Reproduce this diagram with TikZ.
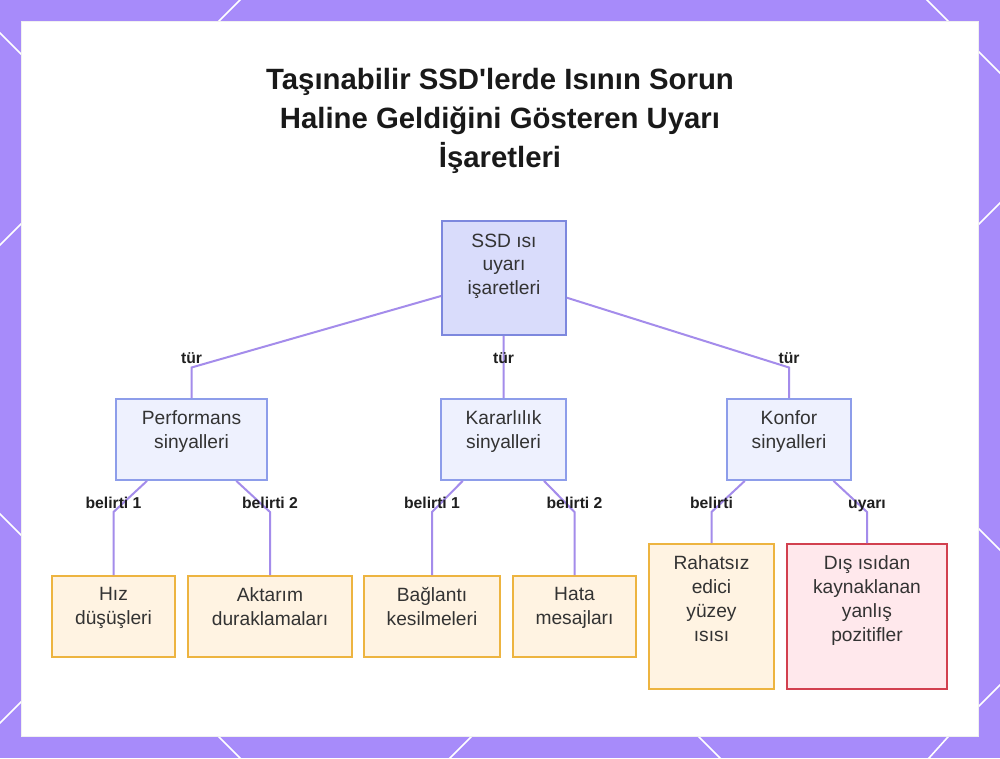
\documentclass[tikz,border=0pt]{standalone}
\usepackage{fontspec}
\setmainfont{Liberation Sans}
\usetikzlibrary{positioning,calc}

\definecolor{framepurple}{HTML}{A78BFA}
\definecolor{linkpurple}{HTML}{A48CEB}
\definecolor{rootfill}{HTML}{D9DCFB}
\definecolor{rootline}{HTML}{7D88DE}
\definecolor{catfill}{HTML}{EEF1FE}
\definecolor{catline}{HTML}{8D9DEA}
\definecolor{warnfill}{HTML}{FFF3E2}
\definecolor{warnline}{HTML}{EDB440}
\definecolor{alertfill}{HTML}{FFE8EC}
\definecolor{alertline}{HTML}{D2404F}
\definecolor{textgray}{HTML}{333333}

\newcommand{\pxu}{0.75pt}

\begin{document}
\begin{tikzpicture}[x=0.75pt, y=-0.75pt,
    box/.style={rectangle, draw, line width=1.3pt, inner sep=0pt},
    rootbox/.style={box, draw=rootline, fill=rootfill},
    catbox/.style={box, draw=catline, fill=catfill},
    warnbox/.style={box, draw=warnline, fill=warnfill},
    alertbox/.style={box, draw=alertline, fill=alertfill},
    txt/.style={anchor=north, align=center, inner sep=0pt, text=textgray,
      font=\fontsize{14.4}{17.8}\selectfont},
    lbl/.style={anchor=base, yshift=3pt, inner sep=0pt, text=black!88,
      font=\bfseries\fontsize{11.8}{14}\selectfont},
    link/.style={draw=linkpurple, line width=1.5pt},
    deco/.style={draw=white, line width=1.2pt}]

    % frame and panel
    \useasboundingbox (0,0) rectangle (1000,758);
    \fill[framepurple] (0,0) rectangle (1000,758);
    \begin{scope}[deco]
      \draw (250,-10) -- (200,40);
      \draw (-10,23) -- (40,73);
      \draw (-10,255) -- (40,205);
      \draw (-10,504) -- (40,554);
      \draw (-10,733) -- (40,683);
      \draw (917,-10) -- (1010,83);
      \draw (1010,193) -- (960,243);
      \draw (960,510) -- (1010,560);
      \draw (1010,675) -- (960,725);
      \draw (200,718) -- (250,768);
      \draw (490,718) -- (440,768);
      \draw (680,718) -- (730,768);
      \draw (965,718) -- (920,768);
    \end{scope}
    \fill[black!6] (21,21) rectangle (979,737);
    \fill[white] (22,22) rectangle (978,736);

    % title
    \node[align=center, text=black!90, font=\bfseries\fontsize{22}{29}\selectfont]
      (title) at (500,121) {Taşınabilir SSD\textquotesingle lerde Isının Sorun\\Haline Geldiğini Gösteren Uyarı\\İşaretleri};

    % boxes
    \node[rootbox, minimum width=124*\pxu, minimum height=114*\pxu] (root) at (504,278) {};
    \node[catbox, minimum width=151*\pxu, minimum height=81*\pxu] (perf) at (191.5,439.5) {};
    \node[catbox, minimum width=125*\pxu, minimum height=81*\pxu] (karar) at (503.5,439.5) {};
    \node[catbox, minimum width=124*\pxu, minimum height=81*\pxu] (konfor) at (789,439.5) {};
    \node[warnbox, minimum width=123*\pxu, minimum height=81*\pxu] (hiz) at (113.5,616.5) {};
    \node[warnbox, minimum width=164*\pxu, minimum height=81*\pxu] (aktarim) at (270,616.5) {};
    \node[warnbox, minimum width=136*\pxu, minimum height=81*\pxu] (baglanti) at (432,616.5) {};
    \node[warnbox, minimum width=123*\pxu, minimum height=81*\pxu] (hata) at (574.5,616.5) {};
    \node[warnbox, minimum width=125*\pxu, minimum height=145*\pxu] (rahatsiz) at (711.5,616.5) {};
    \node[alertbox, minimum width=160*\pxu, minimum height=145*\pxu] (dis) at (867,616.5) {};

    % texts
    \node[txt] (roottxt) at ([yshift=-10pt]root.north) {SSD ısı\\uyarı\\işaretleri};
    \node[txt] (perftxt) at ([yshift=-9pt]perf.north) {Performans\\sinyalleri};
    \node[txt] (karartxt) at ([yshift=-9pt]karar.north) {Kararlılık\\sinyalleri};
    \node[txt] (konfortxt) at ([yshift=-9pt]konfor.north) {Konfor\\sinyalleri};
    \node[txt] (hiztxt) at ([yshift=-9pt]hiz.north) {Hız\\düşüşleri};
    \node[txt] (aktarimtxt) at ([yshift=-9pt]aktarim.north) {Aktarım\\duraklamaları};
    \node[txt] (baglantitxt) at ([yshift=-9pt]baglanti.north) {Bağlantı\\kesilmeleri};
    \node[txt] (hatatxt) at ([yshift=-9pt]hata.north) {Hata\\mesajları};
    \node[txt] (rahatsiztxt) at ([yshift=-9.5pt]rahatsiz.north) {Rahatsız\\edici\\yüzey\\ısısı};
    \node[txt] (distxt) at ([yshift=-9.5pt]dis.north) {Dış ısıdan\\kaynaklanan\\yanlış\\pozitifler};

    % links
    \coordinate (lvltwo) at (0,367.5);
    \coordinate (lvlthree) at (0,512);
    \begin{scope}[link]
      \draw (root) -- (perf.north |- lvltwo) node[lbl] {tür} -- (perf);
      \draw (root) -- (karar.north |- lvltwo) node[lbl] {tür} -- (karar);
      \draw (root) -- (konfor.north |- lvltwo) node[lbl] {tür} -- (konfor);
      \draw (perf) -- (hiz.north |- lvlthree) node[lbl] {belirti 1} -- (hiz);
      \draw (perf) -- (aktarim.north |- lvlthree) node[lbl] {belirti 2} -- (aktarim);
      \draw (karar) -- (baglanti.north |- lvlthree) node[lbl] {belirti 1} -- (baglanti);
      \draw (karar) -- (hata.north |- lvlthree) node[lbl] {belirti 2} -- (hata);
      \draw (konfor) -- (rahatsiz.north |- lvlthree) node[lbl] {belirti} -- (rahatsiz);
      \draw (konfor) -- (dis.north |- lvlthree) node[lbl] {uyarı} -- (dis);
    \end{scope}
\end{tikzpicture}
\end{document}
